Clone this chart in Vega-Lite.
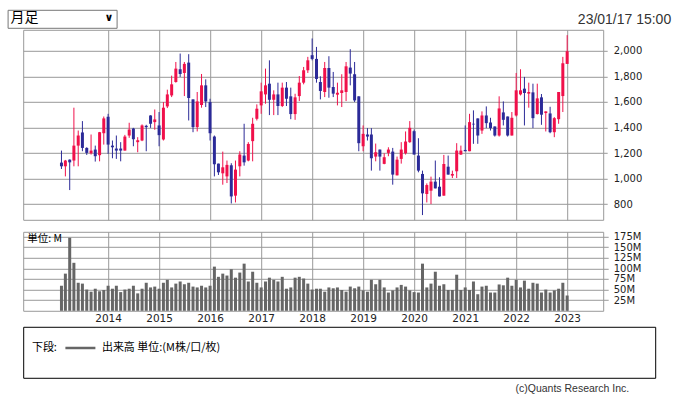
{
  "$schema": "https://vega.github.io/schema/vega-lite/v6.json",
  "background": "white",
  "padding": {"left": 6.2, "top": 8.8, "right": 2, "bottom": 2},
  "config": {
    "view": {"stroke": "#999", "strokeWidth": 1},
    "axis": {"gridColor": "#999", "gridWidth": 1, "tickColor": "#999", "labelFont": "DejaVu Sans", "labelFontSize": 10, "labelColor": "#222", "domain": false, "labelOverlap": false}
  },
  "datasets": {
    "px": [
      {"date": "2013-02-01", "open": 1125, "high": 1219, "low": 1075, "close": 1096, "volume": 59},
      {"date": "2013-03-01", "open": 1096, "high": 1146, "low": 1017, "close": 1141, "volume": 87.5},
      {"date": "2013-04-01", "open": 1148, "high": 1150, "low": 910, "close": 1127, "volume": 172},
      {"date": "2013-05-01", "open": 1141, "high": 1555, "low": 1096, "close": 1258, "volume": 113},
      {"date": "2013-06-01", "open": 1258, "high": 1376, "low": 1096, "close": 1337, "volume": 66},
      {"date": "2013-07-01", "open": 1361, "high": 1450, "low": 1214, "close": 1240, "volume": 64},
      {"date": "2013-08-01", "open": 1240, "high": 1245, "low": 1185, "close": 1201, "volume": 50},
      {"date": "2013-09-01", "open": 1198, "high": 1345, "low": 1188, "close": 1219, "volume": 45},
      {"date": "2013-10-01", "open": 1227, "high": 1258, "low": 1133, "close": 1175, "volume": 52},
      {"date": "2013-11-01", "open": 1183, "high": 1365, "low": 1135, "close": 1363, "volume": 46},
      {"date": "2013-12-01", "open": 1355, "high": 1486, "low": 1266, "close": 1471, "volume": 49},
      {"date": "2014-01-01", "open": 1484, "high": 1507, "low": 1193, "close": 1266, "volume": 59},
      {"date": "2014-02-01", "open": 1258, "high": 1298, "low": 1159, "close": 1245, "volume": 52},
      {"date": "2014-03-01", "open": 1235, "high": 1337, "low": 1154, "close": 1219, "volume": 59},
      {"date": "2014-04-01", "open": 1235, "high": 1285, "low": 1135, "close": 1219, "volume": 44},
      {"date": "2014-05-01", "open": 1219, "high": 1342, "low": 1219, "close": 1329, "volume": 50},
      {"date": "2014-06-01", "open": 1337, "high": 1437, "low": 1319, "close": 1384, "volume": 52},
      {"date": "2014-07-01", "open": 1392, "high": 1397, "low": 1253, "close": 1308, "volume": 59},
      {"date": "2014-08-01", "open": 1285, "high": 1324, "low": 1206, "close": 1300, "volume": 41},
      {"date": "2014-09-01", "open": 1298, "high": 1424, "low": 1293, "close": 1416, "volume": 52},
      {"date": "2014-10-01", "open": 1413, "high": 1421, "low": 1214, "close": 1403, "volume": 66},
      {"date": "2014-11-01", "open": 1494, "high": 1496, "low": 1397, "close": 1429, "volume": 55},
      {"date": "2014-12-01", "open": 1442, "high": 1541, "low": 1382, "close": 1463, "volume": 57},
      {"date": "2015-01-01", "open": 1416, "high": 1521, "low": 1253, "close": 1340, "volume": 52},
      {"date": "2015-02-01", "open": 1306, "high": 1599, "low": 1298, "close": 1555, "volume": 66},
      {"date": "2015-03-01", "open": 1565, "high": 1696, "low": 1552, "close": 1659, "volume": 73},
      {"date": "2015-04-01", "open": 1651, "high": 1806, "low": 1638, "close": 1738, "volume": 55},
      {"date": "2015-05-01", "open": 1756, "high": 1913, "low": 1751, "close": 1861, "volume": 64},
      {"date": "2015-06-01", "open": 1856, "high": 1979, "low": 1796, "close": 1819, "volume": 69},
      {"date": "2015-07-01", "open": 1827, "high": 1913, "low": 1646, "close": 1898, "volume": 62.5},
      {"date": "2015-08-01", "open": 1908, "high": 1974, "low": 1455, "close": 1631, "volume": 66},
      {"date": "2015-09-01", "open": 1620, "high": 1620, "low": 1363, "close": 1403, "volume": 57},
      {"date": "2015-10-01", "open": 1403, "high": 1678, "low": 1369, "close": 1604, "volume": 55},
      {"date": "2015-11-01", "open": 1576, "high": 1819, "low": 1555, "close": 1730, "volume": 59},
      {"date": "2015-12-01", "open": 1730, "high": 1777, "low": 1560, "close": 1604, "volume": 55},
      {"date": "2016-01-01", "open": 1599, "high": 1625, "low": 1298, "close": 1355, "volume": 59},
      {"date": "2016-02-01", "open": 1329, "high": 1337, "low": 1017, "close": 1112, "volume": 104},
      {"date": "2016-03-01", "open": 1117, "high": 1117, "low": 1028, "close": 1049, "volume": 80},
      {"date": "2016-04-01", "open": 1041, "high": 1211, "low": 952, "close": 1088, "volume": 87.5},
      {"date": "2016-05-01", "open": 1017, "high": 1141, "low": 965, "close": 1107, "volume": 83},
      {"date": "2016-06-01", "open": 1104, "high": 1120, "low": 805, "close": 860, "volume": 98},
      {"date": "2016-07-01", "open": 866, "high": 1141, "low": 813, "close": 1070, "volume": 78},
      {"date": "2016-08-01", "open": 1096, "high": 1214, "low": 1017, "close": 1188, "volume": 90},
      {"date": "2016-09-01", "open": 1180, "high": 1429, "low": 1101, "close": 1127, "volume": 111},
      {"date": "2016-10-01", "open": 1141, "high": 1285, "low": 1135, "close": 1271, "volume": 69},
      {"date": "2016-11-01", "open": 1293, "high": 1476, "low": 1135, "close": 1429, "volume": 92},
      {"date": "2016-12-01", "open": 1468, "high": 1581, "low": 1455, "close": 1547, "volume": 66},
      {"date": "2017-01-01", "open": 1573, "high": 1751, "low": 1507, "close": 1683, "volume": 55},
      {"date": "2017-02-01", "open": 1659, "high": 1861, "low": 1586, "close": 1730, "volume": 69},
      {"date": "2017-03-01", "open": 1743, "high": 1926, "low": 1497, "close": 1617, "volume": 78},
      {"date": "2017-04-01", "open": 1617, "high": 1691, "low": 1497, "close": 1659, "volume": 73},
      {"date": "2017-05-01", "open": 1659, "high": 1751, "low": 1497, "close": 1568, "volume": 69},
      {"date": "2017-06-01", "open": 1568, "high": 1751, "low": 1560, "close": 1712, "volume": 80},
      {"date": "2017-07-01", "open": 1712, "high": 1756, "low": 1568, "close": 1625, "volume": 52},
      {"date": "2017-08-01", "open": 1644, "high": 1712, "low": 1465, "close": 1505, "volume": 55},
      {"date": "2017-09-01", "open": 1505, "high": 1664, "low": 1460, "close": 1636, "volume": 78},
      {"date": "2017-10-01", "open": 1646, "high": 1803, "low": 1607, "close": 1751, "volume": 80},
      {"date": "2017-11-01", "open": 1751, "high": 1874, "low": 1738, "close": 1848, "volume": 76},
      {"date": "2017-12-01", "open": 1848, "high": 1953, "low": 1827, "close": 1926, "volume": 64},
      {"date": "2018-01-01", "open": 1966, "high": 2097, "low": 1926, "close": 1937, "volume": 50},
      {"date": "2018-02-01", "open": 1937, "high": 2031, "low": 1751, "close": 1780, "volume": 52},
      {"date": "2018-03-01", "open": 1756, "high": 1801, "low": 1620, "close": 1686, "volume": 52},
      {"date": "2018-04-01", "open": 1678, "high": 1913, "low": 1638, "close": 1866, "volume": 45},
      {"date": "2018-05-01", "open": 1866, "high": 1958, "low": 1633, "close": 1712, "volume": 55},
      {"date": "2018-06-01", "open": 1717, "high": 1835, "low": 1638, "close": 1665, "volume": 53},
      {"date": "2018-07-01", "open": 1657, "high": 1751, "low": 1573, "close": 1672, "volume": 55},
      {"date": "2018-08-01", "open": 1670, "high": 1817, "low": 1560, "close": 1691, "volume": 49},
      {"date": "2018-09-01", "open": 1678, "high": 1913, "low": 1607, "close": 1879, "volume": 45},
      {"date": "2018-10-01", "open": 1869, "high": 2013, "low": 1730, "close": 1822, "volume": 57},
      {"date": "2018-11-01", "open": 1817, "high": 1913, "low": 1599, "close": 1612, "volume": 53},
      {"date": "2018-12-01", "open": 1644, "high": 1644, "low": 1214, "close": 1277, "volume": 57},
      {"date": "2019-01-01", "open": 1253, "high": 1416, "low": 1214, "close": 1350, "volume": 48},
      {"date": "2019-02-01", "open": 1345, "high": 1395, "low": 1298, "close": 1329, "volume": 45},
      {"date": "2019-03-01", "open": 1345, "high": 1395, "low": 1062, "close": 1159, "volume": 73},
      {"date": "2019-04-01", "open": 1172, "high": 1274, "low": 1135, "close": 1206, "volume": 62.5},
      {"date": "2019-05-01", "open": 1227, "high": 1227, "low": 1062, "close": 1172, "volume": 73},
      {"date": "2019-06-01", "open": 1115, "high": 1198, "low": 1112, "close": 1167, "volume": 55},
      {"date": "2019-07-01", "open": 1201, "high": 1245, "low": 1175, "close": 1227, "volume": 43},
      {"date": "2019-08-01", "open": 1211, "high": 1240, "low": 952, "close": 1031, "volume": 48},
      {"date": "2019-09-01", "open": 1025, "high": 1172, "low": 1025, "close": 1148, "volume": 55},
      {"date": "2019-10-01", "open": 1154, "high": 1285, "low": 1117, "close": 1227, "volume": 61},
      {"date": "2019-11-01", "open": 1198, "high": 1369, "low": 1188, "close": 1290, "volume": 57},
      {"date": "2019-12-01", "open": 1285, "high": 1450, "low": 1280, "close": 1397, "volume": 48},
      {"date": "2020-01-01", "open": 1371, "high": 1384, "low": 1188, "close": 1188, "volume": 44},
      {"date": "2020-02-01", "open": 1180, "high": 1316, "low": 1049, "close": 1062, "volume": 43},
      {"date": "2020-03-01", "open": 1036, "high": 1062, "low": 714, "close": 884, "volume": 111},
      {"date": "2020-04-01", "open": 879, "high": 962, "low": 813, "close": 949, "volume": 55},
      {"date": "2020-05-01", "open": 905, "high": 1015, "low": 800, "close": 976, "volume": 64},
      {"date": "2020-06-01", "open": 976, "high": 1141, "low": 923, "close": 923, "volume": 92},
      {"date": "2020-07-01", "open": 936, "high": 1010, "low": 860, "close": 860, "volume": 59},
      {"date": "2020-08-01", "open": 866, "high": 1185, "low": 866, "close": 1114, "volume": 62.5},
      {"date": "2020-09-01", "open": 1093, "high": 1180, "low": 1031, "close": 1031, "volume": 49},
      {"date": "2020-10-01", "open": 1023, "high": 1062, "low": 1004, "close": 1036, "volume": 49},
      {"date": "2020-11-01", "open": 1057, "high": 1277, "low": 1004, "close": 1219, "volume": 85},
      {"date": "2020-12-01", "open": 1188, "high": 1258, "low": 1185, "close": 1219, "volume": 49},
      {"date": "2021-01-01", "open": 1224, "high": 1416, "low": 1214, "close": 1214, "volume": 55},
      {"date": "2021-02-01", "open": 1214, "high": 1507, "low": 1214, "close": 1442, "volume": 49},
      {"date": "2021-03-01", "open": 1429, "high": 1534, "low": 1272, "close": 1424, "volume": 69},
      {"date": "2021-04-01", "open": 1471, "high": 1471, "low": 1272, "close": 1337, "volume": 39},
      {"date": "2021-05-01", "open": 1376, "high": 1526, "low": 1350, "close": 1494, "volume": 57},
      {"date": "2021-06-01", "open": 1494, "high": 1565, "low": 1395, "close": 1434, "volume": 59},
      {"date": "2021-07-01", "open": 1439, "high": 1476, "low": 1376, "close": 1395, "volume": 43},
      {"date": "2021-08-01", "open": 1408, "high": 1408, "low": 1329, "close": 1337, "volume": 43},
      {"date": "2021-09-01", "open": 1337, "high": 1644, "low": 1329, "close": 1549, "volume": 62},
      {"date": "2021-10-01", "open": 1518, "high": 1604, "low": 1416, "close": 1460, "volume": 60},
      {"date": "2021-11-01", "open": 1486, "high": 1486, "low": 1329, "close": 1337, "volume": 78},
      {"date": "2021-12-01", "open": 1337, "high": 1521, "low": 1337, "close": 1476, "volume": 59},
      {"date": "2022-01-01", "open": 1494, "high": 1827, "low": 1486, "close": 1691, "volume": 73},
      {"date": "2022-02-01", "open": 1659, "high": 1856, "low": 1651, "close": 1691, "volume": 55},
      {"date": "2022-03-01", "open": 1704, "high": 1796, "low": 1416, "close": 1670, "volume": 71},
      {"date": "2022-04-01", "open": 1665, "high": 1751, "low": 1555, "close": 1678, "volume": 52},
      {"date": "2022-05-01", "open": 1675, "high": 1743, "low": 1395, "close": 1473, "volume": 66},
      {"date": "2022-06-01", "open": 1505, "high": 1743, "low": 1502, "close": 1628, "volume": 64},
      {"date": "2022-07-01", "open": 1636, "high": 1662, "low": 1421, "close": 1500, "volume": 43},
      {"date": "2022-08-01", "open": 1513, "high": 1526, "low": 1369, "close": 1526, "volume": 50},
      {"date": "2022-09-01", "open": 1510, "high": 1562, "low": 1355, "close": 1363, "volume": 43},
      {"date": "2022-10-01", "open": 1363, "high": 1481, "low": 1324, "close": 1473, "volume": 48},
      {"date": "2022-11-01", "open": 1465, "high": 1678, "low": 1429, "close": 1678, "volume": 52},
      {"date": "2022-12-01", "open": 1646, "high": 1953, "low": 1521, "close": 1903, "volume": 66},
      {"date": "2023-01-01", "open": 1898, "high": 2123, "low": 1898, "close": 1997, "volume": 36}
    ]
  },
  "spacing": 1,
  "bounds": "full",
  "resolve": {"scale": {"color": "independent"}, "legend": {"color": "independent"}},
  "vconcat": [
    {
      "spacing": 12,
      "bounds": "flush",
      "resolve": {"scale": {"color": "independent"}, "legend": {"color": "independent"}},
      "vconcat": [
        {
          "width": 580,
          "height": 190,
          "title": {"text": "23/01/17 15:00", "anchor": "end", "frame": "group", "font": "Liberation Sans", "fontSize": 14, "fontWeight": "normal", "color": "#333", "dx": 68, "offset": 3},
          "encoding": {
            "color": {"condition": {"test": "datum.close > datum.open", "value": "#f0104a"}, "value": "#2b2a98"}
          },
          "layer": [
            {
              "data": {"name": "px"},
              "mark": {"type": "rule", "strokeWidth": 1},
              "encoding": {
                "x": {
                  "field": "date", "type": "temporal",
                  "scale": {"type": "utc", "padding": 0, "domain": [{"year": 2012, "month": 5, "date": 3, "utc": true}, {"year": 2023, "month": 9, "date": 16, "utc": true}]},
                  "axis": {
                    "title": null, "labels": false, "ticks": false, "domain": false, "grid": true,
                    "values": [
                      {"year": 2014, "month": 1, "date": 1, "utc": true},
                      {"year": 2015, "month": 1, "date": 1, "utc": true},
                      {"year": 2016, "month": 1, "date": 1, "utc": true},
                      {"year": 2017, "month": 1, "date": 1, "utc": true},
                      {"year": 2018, "month": 1, "date": 1, "utc": true},
                      {"year": 2019, "month": 1, "date": 1, "utc": true},
                      {"year": 2020, "month": 1, "date": 1, "utc": true},
                      {"year": 2021, "month": 1, "date": 1, "utc": true},
                      {"year": 2022, "month": 1, "date": 1, "utc": true},
                      {"year": 2023, "month": 1, "date": 1, "utc": true}
                    ]
                  }
                },
                "y": {
                  "field": "low", "type": "quantitative",
                  "scale": {"domain": [677, 2165], "zero": false, "nice": false},
                  "axis": {"orient": "right", "title": null, "values": [800, 1000, 1200, 1400, 1600, 1800, 2000], "format": ",d", "grid": true, "tickSize": 4, "labelPadding": 6, "labelOverlap": false}
                },
                "y2": {"field": "high"}
              }
            },
            {
              "data": {"name": "px"},
              "mark": {"type": "bar", "size": 3},
              "encoding": {
                "x": {
                  "field": "date", "type": "temporal",
                  "axis": {
                    "title": null, "labels": false, "ticks": false, "domain": false, "grid": true,
                    "values": [
                      {"year": 2014, "month": 1, "date": 1, "utc": true},
                      {"year": 2015, "month": 1, "date": 1, "utc": true},
                      {"year": 2016, "month": 1, "date": 1, "utc": true},
                      {"year": 2017, "month": 1, "date": 1, "utc": true},
                      {"year": 2018, "month": 1, "date": 1, "utc": true},
                      {"year": 2019, "month": 1, "date": 1, "utc": true},
                      {"year": 2020, "month": 1, "date": 1, "utc": true},
                      {"year": 2021, "month": 1, "date": 1, "utc": true},
                      {"year": 2022, "month": 1, "date": 1, "utc": true},
                      {"year": 2023, "month": 1, "date": 1, "utc": true}
                    ]
                  }
                },
                "y": {
                  "field": "open", "type": "quantitative",
                  "axis": {"orient": "right", "title": null, "values": [800, 1000, 1200, 1400, 1600, 1800, 2000], "format": ",d", "grid": true, "tickSize": 4, "labelPadding": 6, "labelOverlap": false}
                },
                "y2": {"field": "close"}
              }
            },
            {
              "data": {"values": [{"menu": "∨"}]},
              "mark": {"type": "point", "opacity": 0},
              "encoding": {
                "shape": {
                  "field": "menu", "type": "nominal",
                  "legend": {
                    "title": "月足", "orient": "none", "legendX": -15.6, "legendY": -20, "direction": "horizontal",
                    "titleOrient": "left", "titleFont": "Noto Sans CJK JP", "titleFontSize": 14, "titleFontWeight": "normal", "titleColor": "#000", "titlePadding": 49,
                    "labelFont": "DejaVu Sans", "labelFontSize": 11, "labelFontWeight": "bold", "labelColor": "#000", "labelOffset": 6,
                    "symbolSize": 0, "symbolOpacity": 0, "symbolStrokeWidth": 0,
                    "padding": 3, "strokeColor": "#767676", "fillColor": "#ffffff", "cornerRadius": 0
                  }
                }
              }
            }
          ]
        },
        {
          "width": 580,
          "height": 79,
          "title": {"text": "単位: M", "anchor": "start", "font": "Noto Sans CJK JP", "fontSize": 10.5, "fontWeight": "normal", "color": "#000", "dx": 4, "offset": -13},
          "data": {"name": "px"},
          "mark": {"type": "bar", "size": 3, "color": "#666666"},
          "encoding": {
            "x": {
              "field": "date", "type": "temporal",
              "scale": {"type": "utc", "padding": 0, "domain": [{"year": 2012, "month": 5, "date": 3, "utc": true}, {"year": 2023, "month": 9, "date": 16, "utc": true}]},
              "axis": {
                "title": null, "format": "%Y", "ticks": false, "domain": false, "grid": true, "labelPadding": 2.5, "labelFontSize": 10.5, "labelFlush": false,
                "values": [
                  {"year": 2014, "month": 1, "date": 1, "utc": true},
                  {"year": 2015, "month": 1, "date": 1, "utc": true},
                  {"year": 2016, "month": 1, "date": 1, "utc": true},
                  {"year": 2017, "month": 1, "date": 1, "utc": true},
                  {"year": 2018, "month": 1, "date": 1, "utc": true},
                  {"year": 2019, "month": 1, "date": 1, "utc": true},
                  {"year": 2020, "month": 1, "date": 1, "utc": true},
                  {"year": 2021, "month": 1, "date": 1, "utc": true},
                  {"year": 2022, "month": 1, "date": 1, "utc": true},
                  {"year": 2023, "month": 1, "date": 1, "utc": true}
                ]
              }
            },
            "y": {
              "field": "volume", "type": "quantitative",
              "scale": {"domain": [0, 186], "nice": false},
              "axis": {"orient": "right", "title": null, "values": [25, 50, 75, 100, 125, 150, 175], "labelExpr": "datum.value + 'M'", "grid": true, "tickSize": 5, "labelPadding": 5}
            }
          }
        }
      ]
    },
    {
      "width": 632,
      "height": 51,
      "view": {"stroke": "#000", "strokeWidth": 1},
      "title": {"text": "(c)Quants Research Inc.", "orient": "bottom", "anchor": "end", "font": "Liberation Sans", "fontSize": 10.5, "fontWeight": "normal", "color": "#333", "dx": -26, "offset": 6},
      "data": {"values": [{"series": "出来高 単位:(M株/口/枚)"}]},
      "mark": {"type": "point", "opacity": 0},
      "encoding": {
        "color": {
          "field": "series", "type": "nominal",
          "scale": {"range": ["#666666"]},
          "legend": {
            "title": "下段:", "orient": "none", "legendX": 8.7, "legendY": 4.7, "direction": "horizontal",
            "titleOrient": "left", "titleAnchor": "middle", "titleBaseline": "top",
            "titleFont": "Noto Sans CJK JP", "titleFontSize": 11, "titleFontWeight": "normal", "titleColor": "#000", "titlePadding": 6,
            "labelFont": "Noto Sans CJK JP", "labelFontSize": 11, "labelColor": "#000", "labelOffset": 5, "labelLimit": 400,
            "symbolType": "stroke", "symbolSize": 900, "symbolStrokeWidth": 2.5, "symbolStrokeColor": "#666666", "symbolOpacity": 1, "padding": 0
          }
        }
      }
    }
  ]
}
